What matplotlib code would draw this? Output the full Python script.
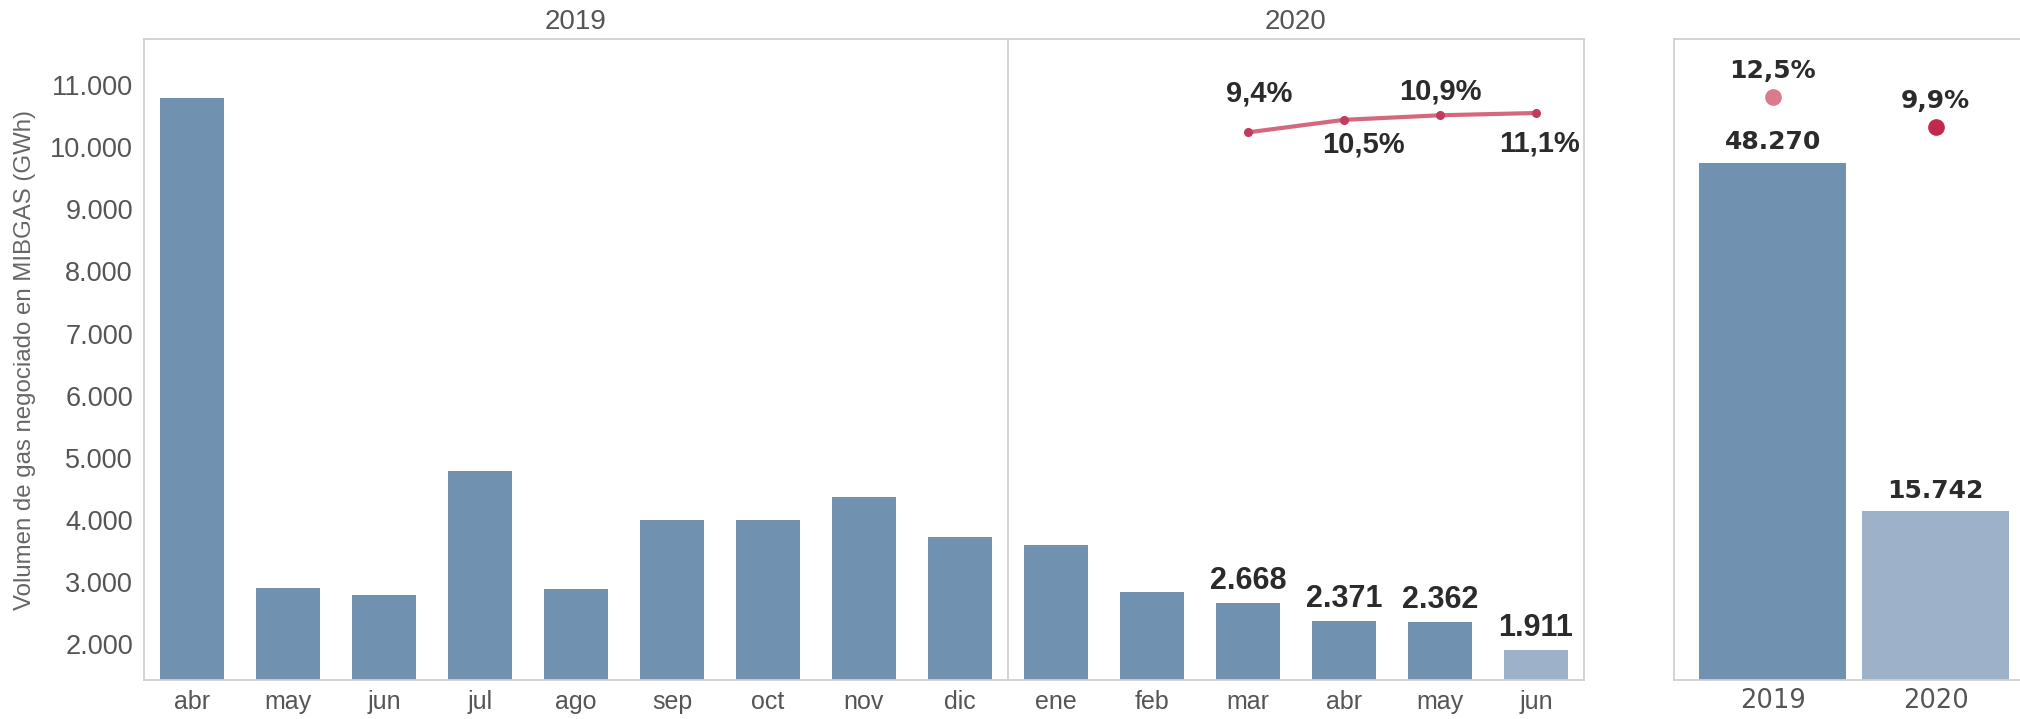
import matplotlib
matplotlib.use("Agg")
import matplotlib.pyplot as plt
import numpy as np

# ---------------- data ----------------
months = ["abr", "may", "jun", "jul", "ago", "sep", "oct", "nov", "dic",
          "ene", "feb", "mar", "abr", "may", "jun"]
volumes = [10790, 2900, 2790, 4780, 2880, 4000, 4000, 4360, 3720,
           3600, 2830, 2668, 2371, 2362, 1911]
labelled_idx = [11, 12, 13, 14]
labelled_text = ["2.668", "2.371", "2.362", "1.911"]
pct_idx = [11, 12, 13, 14]
pct_vals = [9.4, 10.5, 10.9, 11.1]
pct_text = ["9,4%", "10,5%", "10,9%", "11,1%"]
year_headers = ["2019", "2020"]

years = ["2019", "2020"]
year_totals = [48270, 15742]
year_total_text = ["48.270", "15.742"]
year_pct = [12.5, 9.9]
year_pct_text = ["12,5%", "9,9%"]

yticks = [2000, 3000, 4000, 5000, 6000, 7000, 8000, 9000, 10000, 11000]
ytick_labels = ["2.000", "3.000", "4.000", "5.000", "6.000", "7.000",
                "8.000", "9.000", "10.000", "11.000"]
ylabel = "Volumen de gas negociado en MIBGAS (GWh)"

# ---------------- style ----------------
DARK = "#7191b0"
LIGHT = "#9db2c9"
LINE = "#d4687f"
MARK = "#c23a5c"
DOT19 = "#d97a8d"
DOT20 = "#c4284a"
SPINE = "#d0d0d0"
TICK = "#555555"
VAL = "#2b2b2b"
REG = ["Liberation Sans", "DejaVu Sans"]
WIDE = ["DejaVu Sans"]

W, H = 2020, 719
fig = plt.figure(figsize=(W / 100, H / 100), dpi=100)

def box(l, t, r, b):
    return [l / W, 1 - b / H, (r - l) / W, (b - t) / H]

ax = fig.add_axes(box(144, 39, 1584, 680))
ax2 = fig.add_axes(box(1674, 39, 2030, 680))

pct_lim = (-38.7, 17.6)

# ---------- left panel ----------
x = np.arange(len(months))
colors = [DARK] * len(months)
colors[-1] = LIGHT
ax.bar(x, volumes, width=0.67, color=colors, zorder=2)
ax.set_xlim(-0.5, len(months) - 0.5)
ax.set_ylim(1420, 11745)
ax.set_yticks(yticks)
ax.set_yticklabels(ytick_labels, family=REG, fontsize=19.5, color=TICK)
ax.set_xticks(x)
ax.set_xticklabels(months, family=REG, fontsize=18, color=TICK)
ax.tick_params(axis="x", length=0, pad=7)
ax.tick_params(axis="y", length=0, pad=8)
ax.set_ylabel(ylabel, family=REG, fontsize=17.3, color="#666666", labelpad=10)
for s in ax.spines.values():
    s.set_color(SPINE)
    s.set_linewidth(1.3)
ax.axvline(8.5, color=SPINE, lw=1.3, zorder=1)

for i, t in zip(labelled_idx, labelled_text):
    ax.annotate(t, (i, volumes[i]), xytext=(0, 5), textcoords="offset points",
                ha="center", va="bottom", family=REG, fontweight="bold",
                fontsize=22, color=VAL)

# year headers
ax.text(4, 1.006, year_headers[0], transform=ax.get_xaxis_transform(),
        ha="center", va="bottom", family=REG, fontsize=20, color=TICK)
ax.text(11.5, 1.006, year_headers[1], transform=ax.get_xaxis_transform(),
        ha="center", va="bottom", family=REG, fontsize=20, color=TICK)

axp = ax.twinx()
axp.set_ylim(*pct_lim)
axp.axis("off")
axp.plot(pct_idx, pct_vals, color=LINE, lw=3.0, zorder=3)
axp.plot(pct_idx, pct_vals, "o", color=MARK, ms=5.5, zorder=4)
# label placement (x shift in category units, y shift in points)
lab_dx = [0.12, 0.2, 0.0, 0.04]
lab_dy = [28, -18, 17, -22]
for i, v, t, dx, dy in zip(pct_idx, pct_vals, pct_text, lab_dx, lab_dy):
    axp.annotate(t, (i + dx, v), xytext=(0, dy), textcoords="offset points",
                 ha="center", va="center", family=REG, fontweight="bold",
                 fontsize=21, color=VAL)

# ---------- right panel ----------
xr = np.arange(len(years))
ax2.bar(xr, year_totals, width=0.905, color=[DARK, LIGHT], zorder=2)
ax2.set_xlim(-0.606, 1.58)
ax2.set_ylim(0, 59800)
ax2.set_yticks([])
ax2.set_xticks(xr)
ax2.set_xticklabels(years, family=WIDE, fontsize=18.5, color=TICK)
ax2.tick_params(length=0, pad=6)
for s in ax2.spines.values():
    s.set_color(SPINE)
    s.set_linewidth(1.3)
for i, (v, t) in enumerate(zip(year_totals, year_total_text)):
    ax2.annotate(t, (i, v), xytext=(0, 6), textcoords="offset points",
                 ha="center", va="bottom", family=WIDE,
                 fontweight="bold", fontsize=18, color=VAL)

ax2p = ax2.twinx()
ax2p.set_ylim(*pct_lim)
ax2p.axis("off")
for i, (v, t, c) in enumerate(zip(year_pct, year_pct_text, [DOT19, DOT20])):
    ax2p.plot([i], [v], "o", color=c, ms=11, zorder=4)
    ax2p.annotate(t, (i, v), xytext=(0, 10), textcoords="offset points",
                  ha="center", va="bottom", family=WIDE,
                  fontweight="bold", fontsize=18, color=VAL)

fig.savefig("out.png", dpi=100)
